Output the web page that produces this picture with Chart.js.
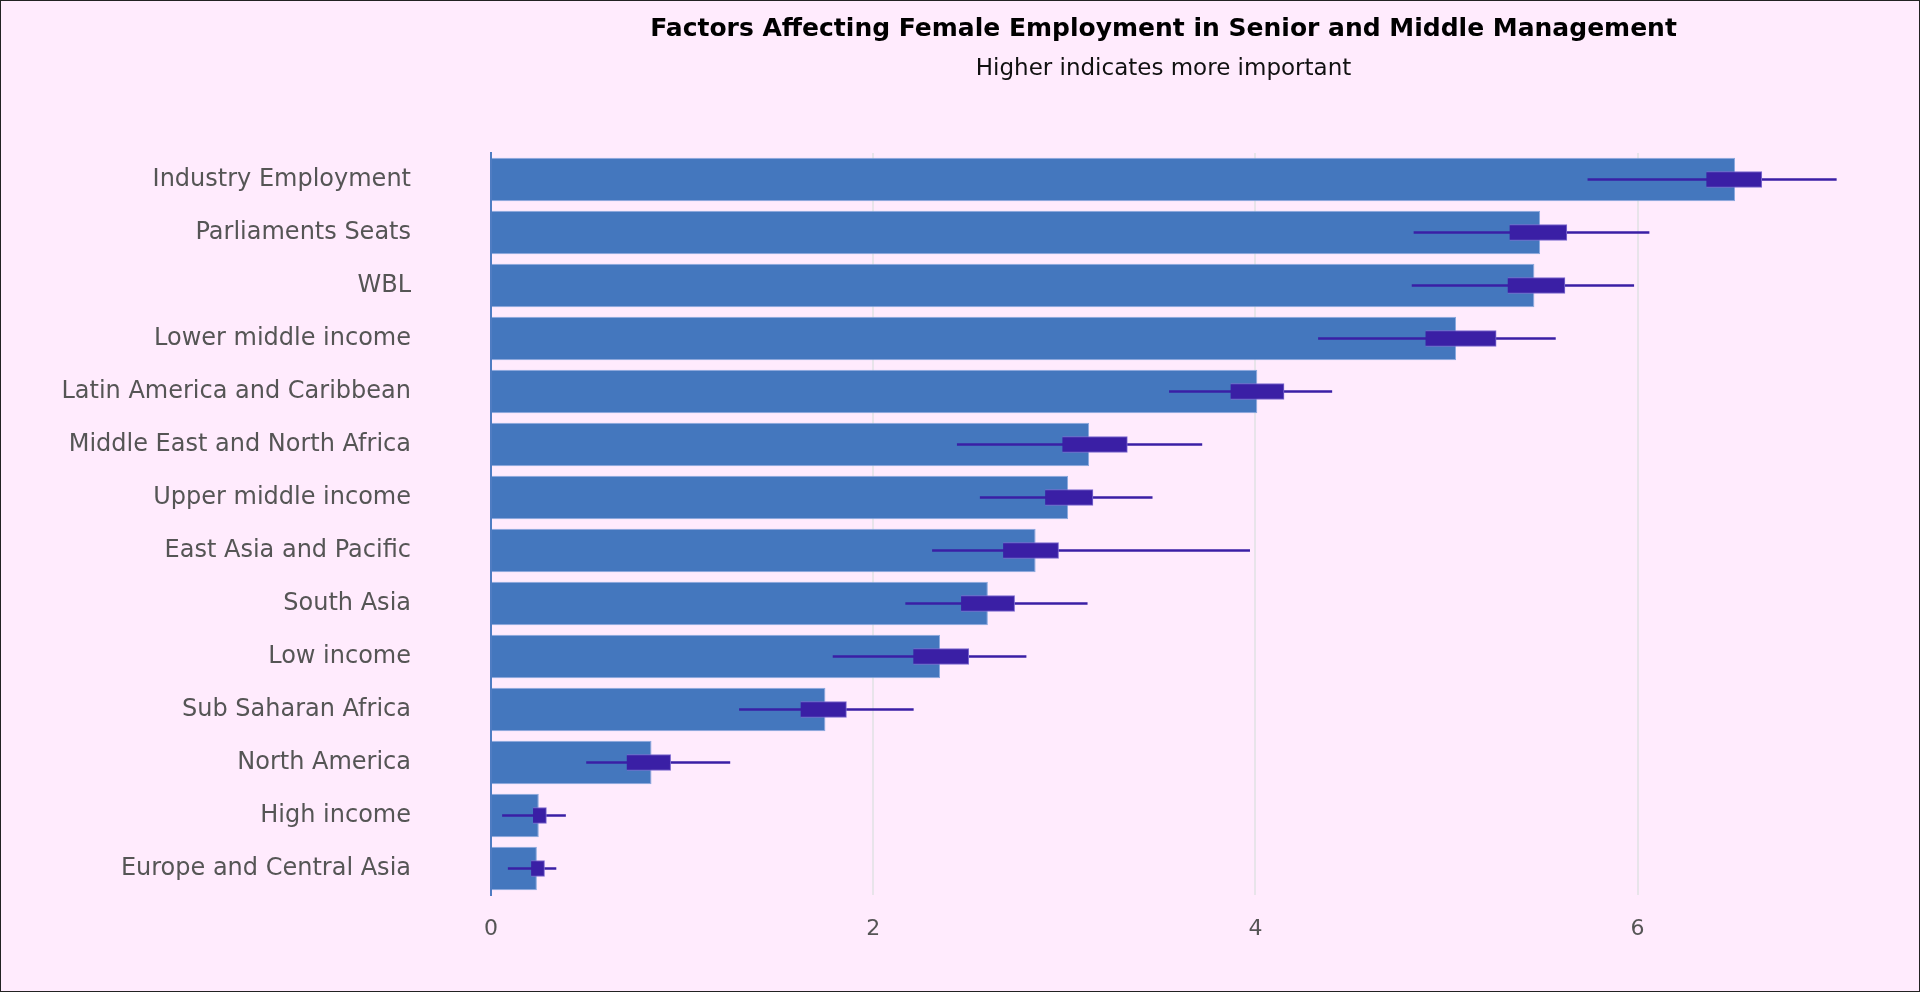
<!DOCTYPE html>
<html>
<head>
<meta charset="utf-8">
<script src="https://cdn.jsdelivr.net/npm/chart.js@4"></script>
<style>
  html, body { margin: 0; padding: 0; background: #ffebfd; }
  #wrap { width: 1920px; height: 992px; box-sizing: border-box; border: 1px solid #222; }
  canvas { display: block; }
</style>
</head>
<body>
<div id="wrap"><canvas id="chart" width="1918" height="990"></canvas></div>
<script>
// 범주 (위에서 아래 순서)
var categories = [
  "Industry Employment", "Parliaments Seats", "WBL", "Lower middle income",
  "Latin America and Caribbean", "Middle East and North Africa", "Upper middle income",
  "East Asia and Pacific", "South Asia", "Low income", "Sub Saharan Africa",
  "North America", "High income", "Europe and Central Asia"
];
// 중요도 값
var importance = [6.51, 5.49, 5.46, 5.05, 4.01, 3.13, 3.02, 2.85, 2.60, 2.35, 1.75, 0.84, 0.25, 0.24];
// 상자 구간 (low, high)
var boxLow  = [6.36, 5.33, 5.32, 4.89, 3.87, 2.99, 2.90, 2.68, 2.46, 2.21, 1.62, 0.71, 0.22, 0.21];
var boxHigh = [6.65, 5.63, 5.62, 5.26, 4.15, 3.33, 3.15, 2.97, 2.74, 2.50, 1.86, 0.94, 0.29, 0.28];
// 수염 구간 (low, high)
var whiskerLow  = [5.74, 4.83, 4.82, 4.33, 3.55, 2.44, 2.56, 2.31, 2.17, 1.79, 1.30, 0.50, 0.06, 0.09];
var whiskerHigh = [7.04, 6.06, 5.98, 5.57, 4.40, 3.72, 3.46, 3.97, 3.12, 2.80, 2.21, 1.25, 0.39, 0.34];
var xTicks = [0, 2, 4, 6];

var titleText = "Factors Affecting Female Employment in Senior and Middle Management";
var subtitleText = "Higher indicates more important";

// 제목 그리기
var titlePlugin = {
  id: "titlePlugin",
  afterDraw: function (chart) {
    var ctx = chart.ctx;
    var cx = (chart.chartArea.left + chart.chartArea.right) / 2 - 25;
    ctx.save();
    ctx.textAlign = "center";
    ctx.textBaseline = "middle";
    ctx.fillStyle = "#000";
    ctx.font = "bold 25px 'DejaVu Sans'";
    ctx.fillText(titleText, cx, 28);
    ctx.fillStyle = "#111";
    ctx.font = "23px 'DejaVu Sans'";
    ctx.fillText(subtitleText, cx, 68);
    ctx.restore();
  },
};

var ctx = document.getElementById("chart").getContext("2d");
var chart = new Chart(ctx, {
  type: "bar",
  data: {
    labels: categories,
    datasets: [
      {
        label: "Importance",
        data: importance,
        backgroundColor: "#4477be",
        borderColor: "#8aa8de",
        borderWidth: 1,
        barPercentage: 0.82,
        categoryPercentage: 1,
        order: 3,
      },
      {
        label: "Whisker",
        data: whiskerLow.map((v, i) => [v, whiskerHigh[i]]),
        backgroundColor: "#3a1fa5",
        borderWidth: 0,
        barThickness: 2,
        order: 2,
      },
      {
        label: "Box",
        data: boxLow.map((v, i) => [v, boxHigh[i]]),
        backgroundColor: "#3a1fa5",
        borderColor: "#7d6ad0",
        borderWidth: 1,
        barThickness: 16,
        order: 1,
      },
    ],
  },
  options: {
    indexAxis: "y",
    responsive: false,
    animation: false,
    grouped: false,
    layout: { padding: { top: 152, right: 33, left: 0, bottom: 0 } },
    plugins: {
      legend: { display: false },
      tooltip: { enabled: false },
    },
    scales: {
      x: {
        type: "linear",
        min: 0,
        max: 7.3,
        border: { display: false },
        afterBuildTicks: function (scale) {
          scale.ticks = xTicks.map((v) => ({ value: v }));
        },
        afterFit: function (scale) {
          scale.height = 96;
        },
        grid: {
          drawTicks: false,
          color: "#e8e4ea",
          lineWidth: 2,
        },
        ticks: {
          padding: 21,
          color: "#555",
          font: { family: "DejaVu Sans", size: 22 },
        },
      },
      y: {
        type: "category",
        offset: true,
        border: { display: true, color: "#4f7cc2", width: 2, dash: [2, 5] },
        grid: { display: false, drawTicks: false },
        afterFit: function (scale) {
          scale.width = 490;
        },
        ticks: {
          padding: 80,
          color: "#555",
          font: { family: "DejaVu Sans", size: 24 },
        },
      },
    },
  },
  plugins: [titlePlugin],
});
</script>
</body>
</html>
